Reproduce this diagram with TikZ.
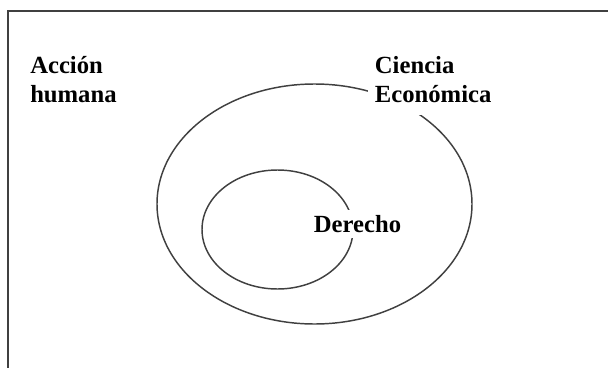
\documentclass[tikz,border=0pt]{standalone}
\usepackage{fontspec}
\setmainfont{Liberation Serif}
\usepackage{tikz}

\begin{document}
\begin{tikzpicture}[x=0.75pt,y=-0.75pt,
  lbl/.style={font=\bfseries\fontsize{18.5pt}{21.75pt}\selectfont, align=left, inner sep=0pt},
  ring/.style={draw=black!75, line width=1.1pt},
  frame/.style={draw=black!75, line width=1.5pt}]
  \useasboundingbox (0,0) rectangle (608,368);
  \draw[frame] (8,368) -- (8,11) -- (608,11);
  \coordinate (ceco) at (314.5,204);
  \coordinate (cder) at (277.5,229.5);
  \draw[ring] (ceco) ellipse [x radius=157.5, y radius=120];
  \draw[ring] (cder) ellipse [x radius=75.5, y radius=59.5];
  \node[lbl, anchor=base west] (accion) at (30,102) {Acción\\humana};
  \node[lbl, anchor=base west, fill=white, inner xsep=5pt, inner ysep=9.5pt] (ciencia) at (368,102) {Ciencia\\Económica};
  \node[lbl, anchor=base, fill=white, inner sep=4pt] (derecho) at (357.5,232) {Derecho};
\end{tikzpicture}
\end{document}
